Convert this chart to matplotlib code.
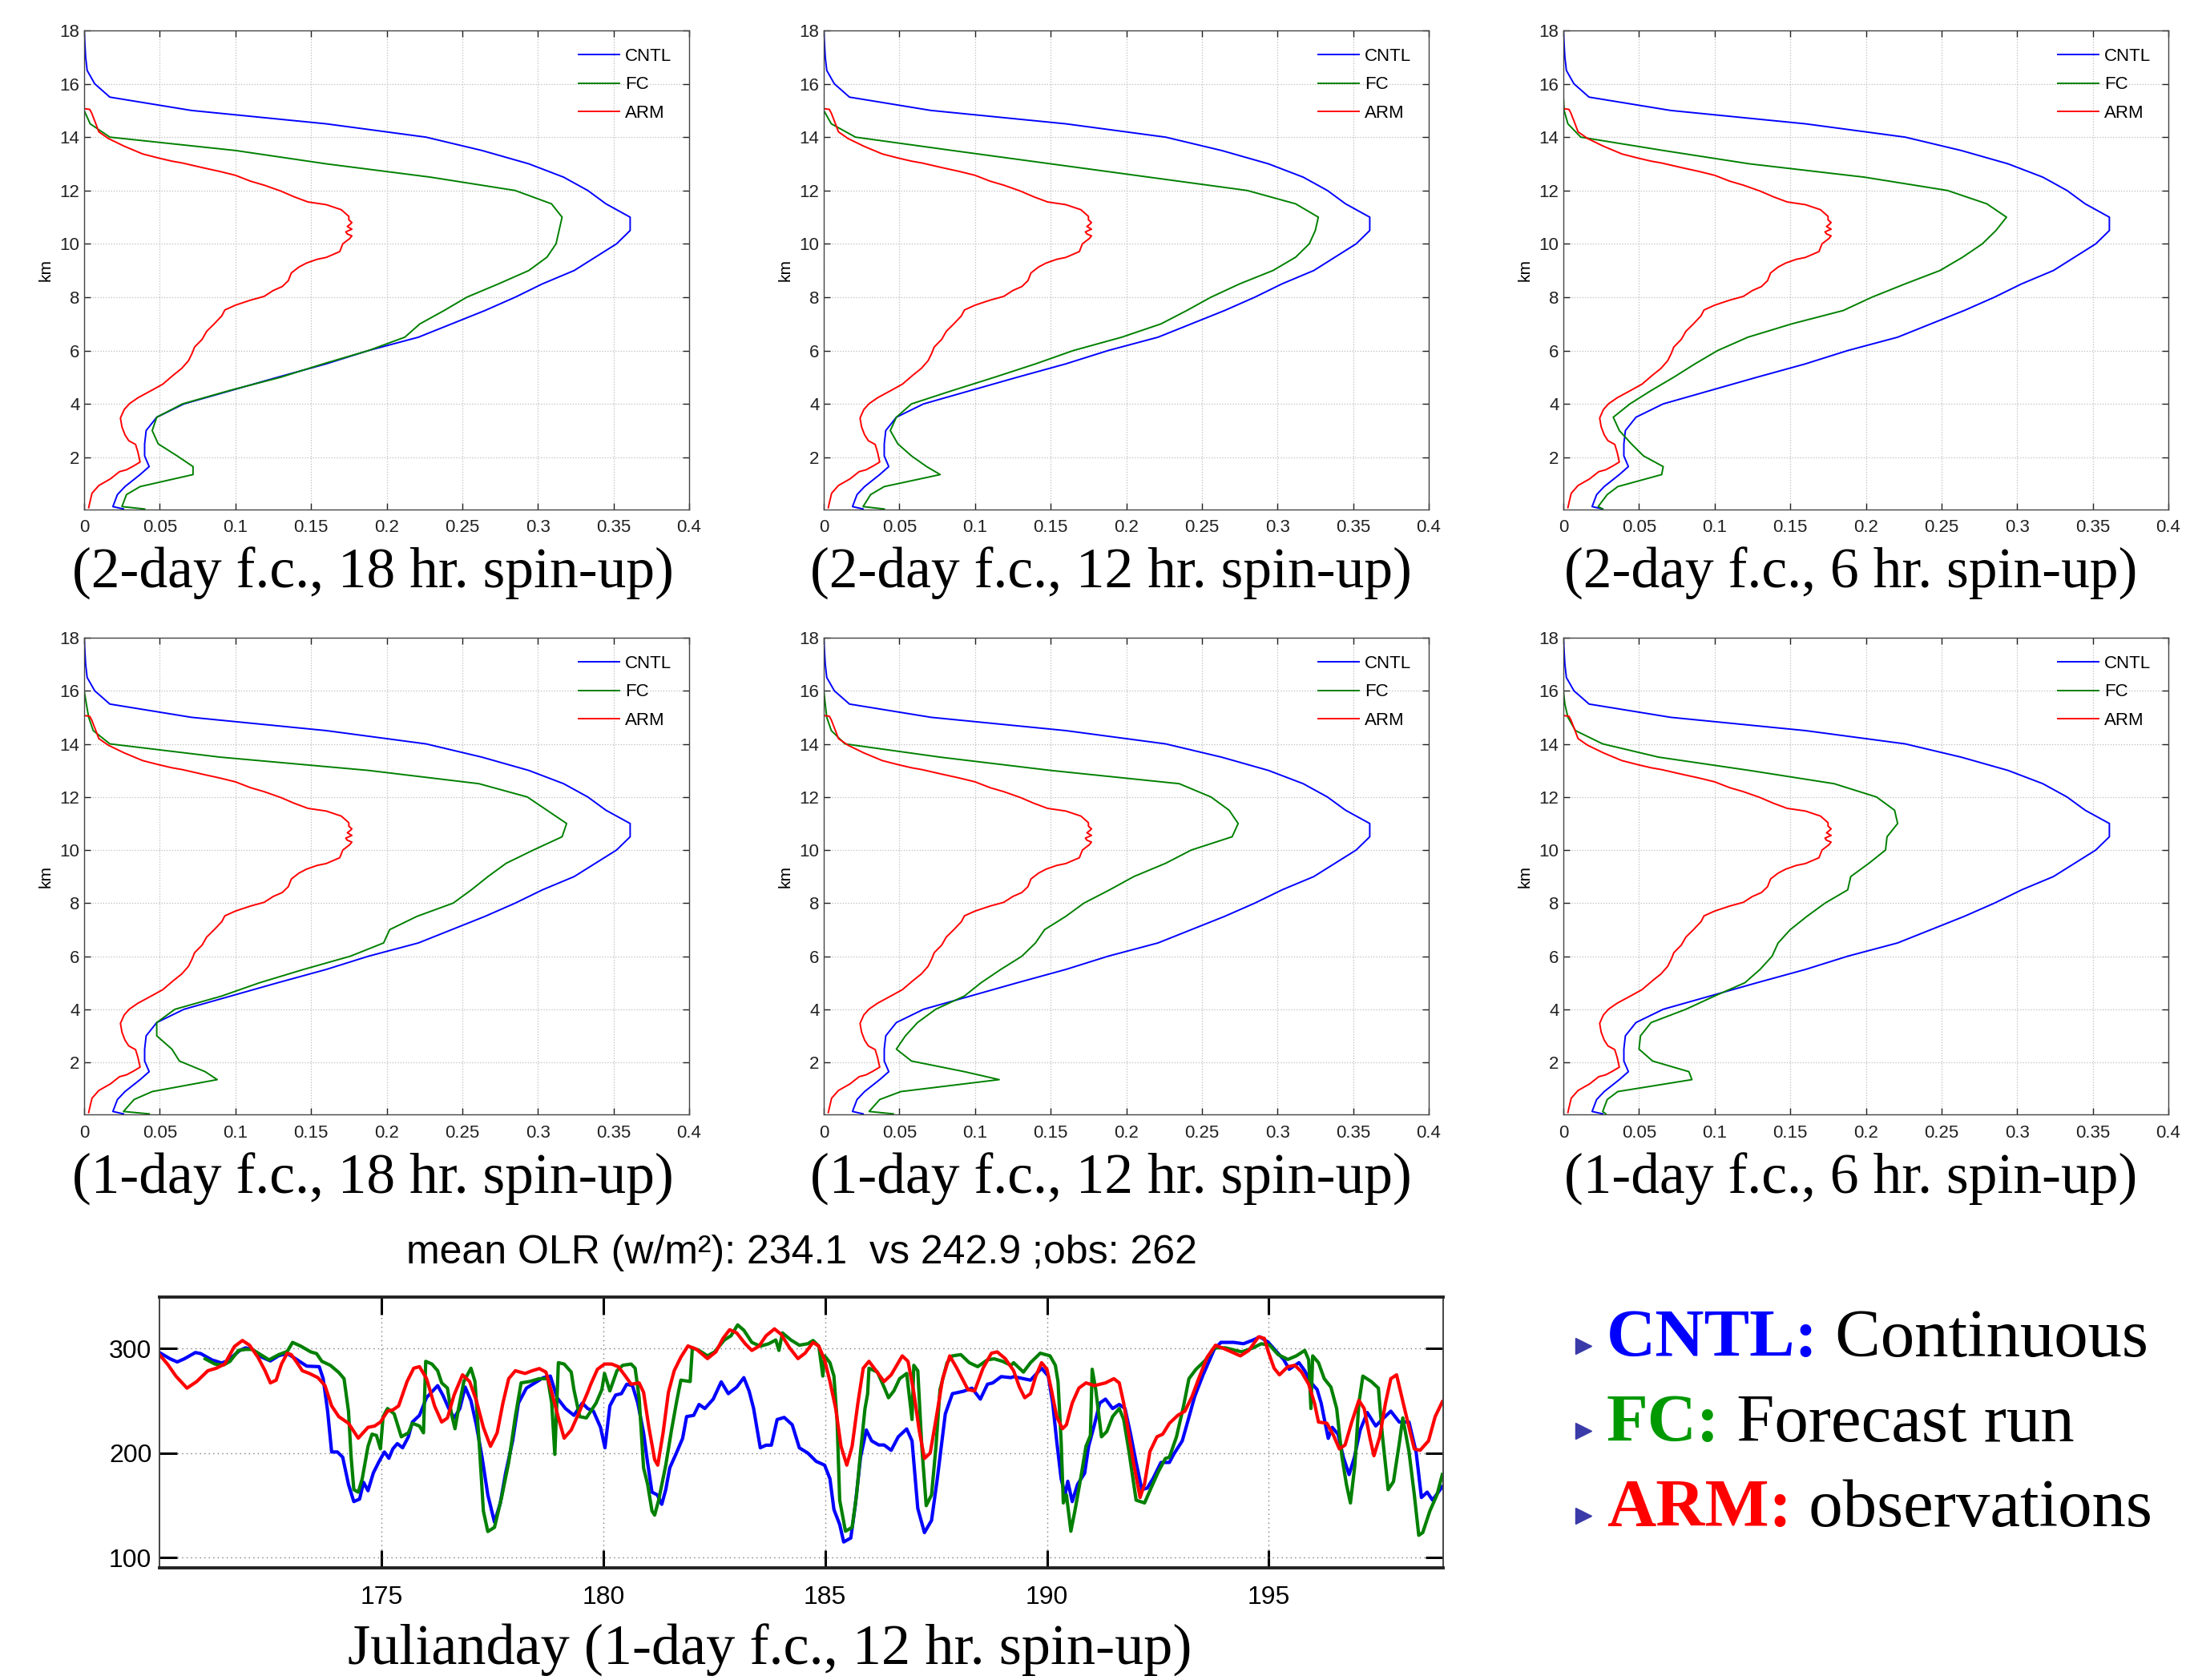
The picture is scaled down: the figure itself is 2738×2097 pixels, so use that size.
import numpy as np
import matplotlib
matplotlib.use('Agg')
import matplotlib.pyplot as plt

W, H, DPI = 2738, 2097, 100
SANS = ['Liberation Sans', 'DejaVu Sans']
SERIF = ['Liberation Serif', 'DejaVu Serif']
plt.rcParams['font.family'] = SANS

# ---------------- vertical profiles ----------------
Z_MODEL = [0.06, 0.15, 0.6, 0.9, 1.35, 1.65, 2.05, 2.5, 3.0, 3.5, 4.0, 4.5, 5.0, 5.5,
           6.0, 6.5, 7.0, 7.5, 8.0, 8.5, 9.0, 9.5, 10.0, 10.5, 11.0, 11.5, 12.0, 12.5,
           13.0, 13.5, 14.0, 14.5, 15.0, 15.5, 16.0, 16.5, 17.0, 18.0]

CNTL = [0.026, 0.019, 0.022, 0.027, 0.037, 0.043, 0.040, 0.040, 0.041, 0.048, 0.066, 0.097,
        0.128, 0.160, 0.188, 0.221, 0.243, 0.265, 0.285, 0.303, 0.324, 0.338, 0.352, 0.361,
        0.361, 0.345, 0.333, 0.317, 0.294, 0.263, 0.226, 0.160, 0.071, 0.017, 0.007, 0.002,
        0.001, 0.0]

FC_2D_18H = [0.040, 0.025, 0.028, 0.037, 0.072, 0.072, 0.0615, 0.049, 0.045, 0.048, 0.065,
             0.096, 0.130, 0.158, 0.188, 0.212, 0.222, 0.238, 0.253, 0.274, 0.294, 0.306,
             0.312, 0.314, 0.316, 0.309, 0.285, 0.229, 0.160, 0.100, 0.017, 0.004, 0.0, 0.0,
             0.0, 0.0, 0.0, 0.0]
FC_2D_12H = [0.040, 0.026, 0.031, 0.040, 0.077, 0.068, 0.058, 0.049, 0.044, 0.048, 0.058,
             0.085, 0.113, 0.140, 0.165, 0.197, 0.223, 0.240, 0.256, 0.275, 0.297, 0.312,
             0.321, 0.325, 0.327, 0.312, 0.280, 0.215, 0.150, 0.085, 0.021, 0.005, 0.0, 0.0,
             0.0, 0.0, 0.0, 0.0]
FC_2D_6H = [0.026, 0.023, 0.029, 0.036, 0.065, 0.066, 0.053, 0.045, 0.037, 0.033, 0.044,
            0.058, 0.073, 0.087, 0.102, 0.122, 0.151, 0.185, 0.204, 0.226, 0.249, 0.264,
            0.277, 0.286, 0.293, 0.280, 0.254, 0.199, 0.123, 0.066, 0.0115, 0.003, 0.0005,
            0.0, 0.0, 0.0, 0.0, 0.0]
FC_1D_18H = [0.043, 0.026, 0.033, 0.045, 0.088, 0.080, 0.063, 0.058, 0.048, 0.048, 0.060,
             0.091, 0.116, 0.145, 0.176, 0.198, 0.202, 0.220, 0.244, 0.256, 0.267, 0.279,
             0.297, 0.316, 0.319, 0.306, 0.293, 0.261, 0.188, 0.090, 0.017, 0.006, 0.003,
             0.0015, 0.0, 0.0, 0.0, 0.0]
FC_1D_12H = [0.046, 0.030, 0.037, 0.051, 0.116, 0.093, 0.058, 0.048, 0.054, 0.062, 0.074,
             0.093, 0.104, 0.117, 0.131, 0.140, 0.146, 0.160, 0.172, 0.189, 0.205, 0.226,
             0.243, 0.270, 0.274, 0.268, 0.256, 0.235, 0.150, 0.077, 0.014, 0.005, 0.002,
             0.001, 0.0, 0.0, 0.0, 0.0]
FC_1D_6H = [0.028, 0.026, 0.029, 0.036, 0.085, 0.083, 0.059, 0.050, 0.051, 0.058, 0.081,
            0.100, 0.120, 0.130, 0.138, 0.142, 0.150, 0.161, 0.173, 0.188, 0.190, 0.202,
            0.213, 0.214, 0.221, 0.219, 0.207, 0.179, 0.123, 0.063, 0.026, 0.008, 0.003,
            0.001, 0.0, 0.0, 0.0, 0.0]

Z_ARM = [0.11, 0.29, 0.65, 0.94, 1.19, 1.46, 1.53, 1.67, 1.82, 2.18, 2.48, 2.62, 2.84, 3.14,
         3.47, 3.79, 4.01, 4.23, 4.52, 4.74, 5.08, 5.33, 5.62, 5.91, 6.13, 6.42, 6.72, 7.0,
         7.3, 7.52, 7.7, 7.89, 8.03, 8.25, 8.4, 8.62, 8.91, 9.13, 9.28, 9.42, 9.49, 9.71,
         10.0, 10.2, 10.3, 10.37, 10.45, 10.55, 10.65, 10.74, 10.8, 10.9, 11.03, 11.28,
         11.47, 11.57, 11.76, 11.98, 12.2, 12.35, 12.57, 12.71, 12.86, 13.03, 13.1, 13.22,
         13.37, 13.66, 13.95, 14.2, 14.46, 14.9, 15.04, 15.07, 18.0]
ARM = [0.003, 0.0037, 0.0052, 0.0097, 0.0174, 0.0234, 0.028, 0.0326, 0.037, 0.0356, 0.034,
       0.0295, 0.027, 0.025, 0.024, 0.0265, 0.030, 0.0356, 0.045, 0.052, 0.059, 0.0645,
       0.069, 0.0715, 0.073, 0.078, 0.081, 0.086, 0.091, 0.093, 0.100, 0.110, 0.119, 0.125,
       0.131, 0.135, 0.137, 0.142, 0.147, 0.154, 0.160, 0.169, 0.171, 0.1756, 0.177, 0.174,
       0.173, 0.177, 0.174, 0.176, 0.177, 0.175, 0.175, 0.170, 0.160, 0.148, 0.139, 0.130,
       0.119, 0.110, 0.100, 0.090, 0.078, 0.065, 0.058, 0.049, 0.0387, 0.0265, 0.016,
       0.0097, 0.008, 0.005, 0.0037, 0.0, 0.0]

FC_PANELS = [FC_2D_18H, FC_2D_12H, FC_2D_6H, FC_1D_18H, FC_1D_12H, FC_1D_6H]
PANEL_TITLES = ['(2-day f.c., 18 hr. spin-up)', '(2-day f.c., 12 hr. spin-up)',
                '(2-day f.c., 6 hr. spin-up)', '(1-day f.c., 18 hr. spin-up)',
                '(1-day f.c., 12 hr. spin-up)', '(1-day f.c., 6 hr. spin-up)']
SERIES_NAMES = ['CNTL', 'FC', 'ARM']
PROFILE_XTICKS = [0, 0.05, 0.1, 0.15, 0.2, 0.25, 0.3, 0.35, 0.4]
PROFILE_XTICKLABELS = ['0', '0.05', '0.1', '0.15', '0.2', '0.25', '0.3', '0.35', '0.4']
PROFILE_YTICKS = [2, 4, 6, 8, 10, 12, 14, 16, 18]

# ---------------- OLR time series ----------------
DAY_CNTL = [170.0, 170.24, 170.40, 170.56, 170.81, 170.93, 171.18, 171.40, 171.53, 171.81,
            171.94, 172.09, 172.31, 172.5, 172.69, 172.88, 173.07, 173.32, 173.6, 173.69,
            173.79, 173.88, 174.01, 174.13, 174.26, 174.38, 174.51, 174.60, 174.7, 174.82,
            174.95, 175.07, 175.17, 175.26, 175.36, 175.48, 175.61, 175.7, 175.86, 176.02,
            176.27, 176.39, 176.52, 176.64, 176.77, 176.89, 177.02, 177.14, 177.27, 177.40,
            177.55, 177.68, 177.8, 177.96, 178.09, 178.27, 178.46, 178.65, 178.81, 178.96,
            179.15, 179.34, 179.53, 179.65, 179.78, 179.94, 180.04, 180.15, 180.28, 180.41,
            180.53, 180.66, 180.78, 180.91, 181.0, 181.1, 181.22, 181.32, 181.41, 181.5,
            181.66, 181.79, 181.88, 182.04, 182.16, 182.29, 182.48, 182.66, 182.82, 183.01,
            183.17, 183.29, 183.39, 183.54, 183.67, 183.79, 183.92, 184.08, 184.26, 184.42,
            184.61, 184.8, 184.99, 185.11, 185.2, 185.33, 185.42, 185.58, 185.68, 185.8,
            185.93, 186.05, 186.21, 186.33, 186.49, 186.65, 186.84, 186.96, 187.09, 187.24,
            187.4, 187.53, 187.71, 187.87, 188.12, 188.31, 188.5, 188.66, 188.78, 188.97,
            189.19, 189.25, 189.63, 189.88, 190.03, 190.13, 190.22, 190.32, 190.41, 190.47,
            190.57, 190.69, 190.85, 190.94, 191.07, 191.19, 191.32, 191.48, 191.63, 191.76,
            191.88, 192.01, 192.14, 192.26, 192.39, 192.57, 192.76, 192.86, 193.05, 193.17,
            193.33, 193.52, 193.77, 193.92, 194.21, 194.43, 194.65, 194.8, 194.99, 195.18,
            195.34, 195.46, 195.68, 195.81, 195.93, 196.09, 196.18, 196.34, 196.43, 196.56,
            196.68, 196.81, 196.93, 197.06, 197.22, 197.41, 197.56, 197.75, 197.94, 198.16,
            198.32, 198.44, 198.57, 198.69, 198.91]
OLR_CNTL = [296, 290, 287, 290, 296, 295, 289, 286, 288, 298,
            300.5, 299, 291.5, 288, 293, 295, 290, 283, 282.5, 271,
            240, 201, 201, 196, 170, 153.6, 156, 172, 164, 181,
            192, 201, 195, 204, 209, 205, 215.5, 229.6, 236, 253,
            264.4, 255, 242.5, 233.5, 242.5, 263, 250, 227, 196, 160,
            134, 152, 180.7, 211.6, 247.7, 262, 267, 272, 273.5, 252.8,
            242.5, 236, 247.7, 242.5, 240, 224.5, 205, 245, 255.4, 256.7,
            265.7, 264.4, 247.7, 219.3, 191, 162.6, 160, 151, 165, 185.8,
            201, 214, 234.8, 236, 246.4, 242.5, 251.5, 268, 256.7, 263,
            272, 259, 242.5, 205, 207.5, 207.5, 232, 234, 227, 205,
            200, 192, 188.4, 175.5, 146, 131.7, 115, 118.8, 149.7, 196,
            222, 211.6, 207.7, 207.7, 202.6, 215.5, 223, 211.6, 147, 124,
            135.6, 175.5, 237.4, 256.7, 259, 262, 251.5, 265.7, 267, 273,
            272, 273, 269.6, 281, 273.5, 247.7, 211.6, 175.5, 160, 173,
            153.6, 170, 180.7, 206.4, 227, 247.7, 251.5, 242.5, 246.4, 242.5,
            219.3, 191, 165, 166.5, 175.5, 191, 191, 199, 211.6, 229.6,
            254, 274.7, 299, 305.7, 305.7, 304.4, 308, 311, 305.7, 296.6,
            289, 280, 286.3, 278.6, 268.3, 260.6, 247.7, 214, 224.5, 218,
            196, 179.4, 196, 222, 238.7, 225.8, 232.2, 240, 229.6, 229.6,
            201, 157.5, 162.6, 155, 167.8]

DAY_FC = [171.03, 171.25, 171.44, 171.59, 171.78, 171.94, 172.09, 172.28, 172.47, 172.69,
          172.88, 173.0, 173.19, 173.41, 173.54, 173.66, 173.85, 174.04, 174.16, 174.26,
          174.32, 174.38, 174.48, 174.57, 174.7, 174.79, 174.89, 174.98, 175.04, 175.14,
          175.29, 175.45, 175.61, 175.7, 175.86, 175.95, 176.0, 176.14, 176.27, 176.36,
          176.49, 176.58, 176.66, 176.74, 176.86, 177.02, 177.11, 177.21, 177.3, 177.4,
          177.55, 177.71, 177.87, 178.02, 178.15, 178.34, 178.56, 178.75, 178.84, 178.91,
          178.99, 179.12, 179.28, 179.34, 179.47, 179.62, 179.84, 179.97, 180.03, 180.15,
          180.31, 180.44, 180.63, 180.72, 180.81, 180.91, 181.0, 181.1, 181.16, 181.25,
          181.41, 181.54, 181.66, 181.75, 181.96, 182.01, 182.16, 182.35, 182.51, 182.73,
          182.88, 183.03, 183.17, 183.35, 183.54, 183.73, 183.89, 183.96, 184.04, 184.23,
          184.42, 184.61, 184.73, 184.86, 184.95, 184.99, 185.11, 185.2, 185.27, 185.33,
          185.46, 185.61, 185.71, 185.8, 185.9, 185.96, 185.99, 186.18, 186.33, 186.43,
          186.55, 186.68, 186.84, 186.96, 187.0, 187.09, 187.18, 187.28, 187.4, 187.5,
          187.59, 187.75, 187.87, 188.06, 188.25, 188.44, 188.66, 188.81, 189.0, 189.19,
          189.25, 189.47, 189.63, 189.85, 190.07, 190.19, 190.25, 190.32, 190.37, 190.44,
          190.54, 190.63, 190.76, 190.88, 190.98, 191.02, 191.1, 191.23, 191.35, 191.48,
          191.63, 191.73, 191.85, 192.01, 192.2, 192.36, 192.51, 192.67, 192.76, 192.92,
          193.08, 193.2, 193.36, 193.58, 193.77, 194.02, 194.39, 194.65, 194.83, 195.02,
          195.21, 195.43, 195.62, 195.81, 195.9, 195.95, 195.99, 196.12, 196.25, 196.4,
          196.53, 196.65, 196.75, 196.84, 196.94, 197.03, 197.12, 197.31, 197.47, 197.56,
          197.69, 197.81, 197.94, 198.02, 198.16, 198.28, 198.38, 198.47, 198.63, 198.79,
          198.91]
OLR_FC = [290, 285, 284, 287.6, 298, 299, 299, 294, 289, 294,
          297, 305.7, 302, 296.6, 295, 287.6, 283.8, 277, 271, 240,
          196, 165, 162.6, 175.5, 206.4, 218, 216.8, 204, 234.8, 242.5,
          237.4, 215.5, 219.3, 228.4, 225.8, 219.3, 287.6, 285, 278.6, 267,
          262, 237.4, 223.2, 242.5, 268.3, 281, 268.3, 206.4, 144.6, 125,
          129, 157.5, 191, 234.8, 267, 268.3, 271, 271, 247.7, 198.7,
          286.3, 285, 277.3, 260.6, 234.8, 233.5, 247.7, 260.6, 276, 259.3,
          278.6, 283.8, 285, 281, 252.8, 185.8, 170.4, 144.6, 140.7, 155,
          188.4, 222, 250.3, 269.6, 268.3, 300.5, 298, 292.8, 296.6, 308,
          312, 322.4, 317.3, 305.7, 302, 304.4, 308, 298, 314.7, 308,
          303, 304.4, 307.5, 302, 273.5, 292.8, 286.3, 273.5, 232, 155,
          125.3, 129, 160, 201, 242.5, 256.7, 281, 277.3, 263, 252.8,
          259.3, 271, 276, 232, 283.8, 278.6, 206.4, 149.7, 160, 206.4,
          260.6, 286.3, 292.8, 294, 286.3, 282.5, 289, 290, 287.6, 283.8,
          286.3, 277.3, 286.3, 295.4, 292.8, 283.8, 268.3, 211.6, 152.3, 160,
          125.3, 144.6, 175.5, 206.4, 216.8, 280, 260.6, 215.5, 220.6, 234.8,
          242.5, 232.2, 201.3, 155, 152.3, 167.8, 182, 194.8, 196, 215.5,
          245, 271, 280, 289, 300.5, 300.5, 296.6, 300.5, 304.4, 303,
          294, 289.4, 292.8, 298, 289, 242.5, 292.8, 286.3, 271, 263,
          242.5, 196, 170, 152.3, 188.4, 247.7, 273.5, 268.3, 262, 216.8,
          165, 172.7, 209, 233.5, 201.3, 160, 121.4, 124, 144.6, 160,
          179.4]

DAY_ARM = [170.0, 170.18, 170.37, 170.62, 170.84, 171.09, 171.28, 171.47, 171.69, 171.87,
           172.03, 172.22, 172.38, 172.5, 172.63, 172.75, 172.88, 172.97, 173.1, 173.22,
           173.38, 173.57, 173.73, 173.88, 174.04, 174.26, 174.48, 174.7, 174.85, 174.98,
           175.14, 175.26, 175.39, 175.58, 175.73, 175.86, 176.02, 176.2, 176.36, 176.49,
           176.64, 176.83, 176.99, 177.14, 177.3, 177.46, 177.61, 177.74, 177.87, 178.02,
           178.24, 178.4, 178.56, 178.71, 178.84, 179.0, 179.12, 179.28, 179.47, 179.65,
           179.72, 179.87, 180.03, 180.19, 180.34, 180.5, 180.63, 180.81, 180.91, 181.03,
           181.16, 181.23, 181.35, 181.47, 181.6, 181.75, 181.91, 182.1, 182.35, 182.54,
           182.7, 182.85, 183.01, 183.2, 183.35, 183.51, 183.67, 183.86, 184.01, 184.2,
           184.39, 184.55, 184.73, 184.86, 184.99, 185.11, 185.24, 185.36, 185.49, 185.61,
           185.74, 185.86, 185.99, 186.15, 186.33, 186.49, 186.74, 186.87, 187.0, 187.12,
           187.24, 187.37, 187.5, 187.65, 187.81, 187.97, 188.22, 188.37, 188.56, 188.75,
           188.88, 189.06, 189.25, 189.38, 189.5, 189.63, 189.75, 189.88, 190.0, 190.1,
           190.22, 190.35, 190.44, 190.57, 190.72, 190.88, 191.07, 191.32, 191.51, 191.63,
           191.73, 191.82, 191.95, 192.1, 192.2, 192.32, 192.48, 192.61, 192.76, 192.95,
           193.11, 193.27, 193.42, 193.61, 193.8, 194.02, 194.36, 194.55, 194.77, 194.9,
           194.99, 195.12, 195.24, 195.43, 195.59, 195.74, 195.9, 196.03, 196.12, 196.31,
           196.46, 196.59, 196.72, 196.87, 197.03, 197.15, 197.28, 197.37, 197.5, 197.63,
           197.75, 197.88, 198.03, 198.19, 198.28, 198.41, 198.6, 198.75, 198.91]
OLR_ARM = [294, 285, 273.5, 262, 268.3, 278.6, 281, 285, 301.8, 307.5,
           303, 291.5, 278.6, 267, 269.6, 285, 295.4, 294, 286.3, 278.6,
           276, 272, 264.4, 245, 234.8, 228.4, 214.2, 224.5, 225.8, 229.6,
           240, 241.2, 245, 268.3, 281, 282.5, 271, 245, 229.6, 233.5,
           255.4, 274.7, 268.3, 250.3, 224.5, 206.4, 219.3, 247.7, 271, 278.6,
           276, 278.6, 280.7, 277.3, 258, 232.2, 214.2, 222, 240, 258,
           265.7, 280, 285, 285, 282.5, 273.5, 265.7, 267, 258, 224.5,
           193.6, 188.4, 219.3, 258, 278.6, 291.5, 302.3, 299.2, 290.2, 296.6,
           309.5, 317.8, 314.7, 304.4, 298, 302, 312, 318.6, 313.4, 300.5,
           290.2, 295.4, 305.7, 302, 289, 268.3, 242.5, 206.4, 188.4, 206.4,
           247.7, 281, 287.6, 278.6, 268.3, 274.7, 292.8, 287.6, 258, 222,
           194.8, 200, 232.2, 271, 292.8, 281, 260.6, 259.3, 281, 295.4,
           296.6, 290.2, 278.6, 263, 252.8, 256.7, 273.5, 286.3, 280, 260.6,
           234.8, 223.2, 227, 247.7, 262, 267, 264.4, 267, 271, 267,
           247.7, 224.5, 191, 157.5, 170.4, 201.3, 215.5, 218, 228.4, 236,
           240, 254, 271, 291.5, 303, 299.2, 292.8, 298, 311, 309.5,
           296.6, 281, 274.7, 282.5, 283.8, 277.3, 265.7, 247.7, 229.6, 228.4,
           216.8, 203.9, 207.7, 229.6, 250.3, 242.5, 214.2, 197.4, 215.5, 247.7,
           271, 274.7, 247.7, 219.3, 203.9, 202.6, 211.6, 234.8, 248.9]

OLR_XTICKS = [175, 180, 185, 190, 195]
OLR_YTICKS = [100, 200, 300]
OLR_TITLE = 'mean OLR (w/m\u00b2): 234.1  vs 242.9 ;obs: 262'
OLR_XLABEL = 'Julianday (1-day f.c., 12 hr. spin-up)'

BULLETS = [('CNTL:', ' Continuous', '#0000ff'),
           ('FC:', ' Forecast run', '#009900'),
           ('ARM:', ' observations', '#ff0000')]

COLORS = ['#0000ff', '#008000', '#ff0000']

# ---------------- figure ----------------
fig = plt.figure(figsize=(W / DPI, H / DPI), dpi=DPI)
fig.patch.set_facecolor('white')


def px_axes(l, t, r, b):
    return fig.add_axes([l / W, 1 - b / H, (r - l) / W, (b - t) / H])


COLS = [(105, 860), (1028, 1783), (1951, 2706)]
ROWS = [(38, 636), (796, 1391)]
TITLE_X = [465, 1386, 2310]
TITLE_Y = [716, 1472]

for i, fc in enumerate(FC_PANELS):
    r, c = divmod(i, 3)
    ax = px_axes(COLS[c][0], ROWS[r][0], COLS[c][1], ROWS[r][1])
    ax.plot(CNTL, Z_MODEL, color=COLORS[0], lw=1.4, label=SERIES_NAMES[0])
    ax.plot(fc, Z_MODEL, color=COLORS[1], lw=1.4, label=SERIES_NAMES[1])
    ax.plot(ARM, Z_ARM, color=COLORS[2], lw=1.4, label=SERIES_NAMES[2])
    ax.set_xlim(0, 0.4)
    ax.set_ylim(0.04, 18)
    ax.set_xticks(PROFILE_XTICKS)
    ax.set_xticklabels(PROFILE_XTICKLABELS)
    ax.set_yticks(PROFILE_YTICKS)
    ax.grid(True, ls=':', color='#bdbdbd', lw=0.9)
    ax.set_axisbelow(True)
    ax.tick_params(direction='in', top=True, right=True, length=6, width=1,
                   labelsize=16, colors='#222222')
    ax.tick_params(axis='x', pad=9)
    ax.tick_params(axis='y', pad=4)
    for s in ax.spines.values():
        s.set_color('#444444')
        s.set_linewidth(1.0)
    ax.set_ylabel('km', fontsize=15, labelpad=6)
    ax.legend(loc='upper right', frameon=False, fontsize=16, handlelength=2.3,
              handletextpad=0.3, labelspacing=0.66, borderaxespad=0.2, borderpad=0.78)
    fig.text(TITLE_X[c] / W, 1 - TITLE_Y[r] / H, PANEL_TITLES[i], family=SERIF,
             fontsize=51.5, ha='center', va='center')

# ---------------- OLR panel ----------------
bx = px_axes(199, 1619, 1801, 1957)
bx.plot(DAY_CNTL, OLR_CNTL, color=COLORS[0], lw=3)
bx.plot(DAY_FC, OLR_FC, color=COLORS[1], lw=3)
bx.plot(DAY_ARM, OLR_ARM, color=COLORS[2], lw=3)
bx.set_xlim(170, 198.93)
bx.set_ylim(90.3, 349)
bx.set_xticks(OLR_XTICKS)
bx.set_yticks(OLR_YTICKS)
bx.grid(True, ls=(0, (1, 3)), color='#7a7a7a', lw=1.0)
bx.set_axisbelow(True)
bx.tick_params(direction='in', top=True, right=True, length=16, width=2.2,
               labelsize=23)
bx.tick_params(axis='x', pad=16)
bx.tick_params(axis='y', pad=7)
for k in ('top', 'bottom'):
    bx.spines[k].set_linewidth(2.8)
    bx.spines[k].set_color('#222222')
for k in ('left', 'right'):
    bx.spines[k].set_linewidth(1.4)
    bx.spines[k].set_color('#444444')
fig.text(1000 / W, 1 - 1564 / H, OLR_TITLE, fontsize=36, ha='center', va='center')
fig.text(961 / W, 1 - 2060 / H, OLR_XLABEL, family=SERIF, fontsize=52,
         ha='center', va='center')

# ---------------- bullet legend text ----------------
tax = fig.add_axes([0, 0, 1, 1])
tax.set_xlim(0, W)
tax.set_ylim(H, 0)
tax.axis('off')
BASELINES = [1693, 1799, 1905]
for (bold, rest, col), yb in zip(BULLETS, BASELINES):
    tax.plot([1976], [yb - 13], marker='>', ms=15, color='#3a3aa8', mec='#3a3aa8')
    t1 = tax.text(2005, yb, bold, family=SERIF, fontsize=61, fontweight='bold',
                  color=col, ha='left', va='baseline')
    tax.annotate(rest, xy=(1, 0), xycoords=t1, family=SERIF, fontsize=61,
                 color='black', ha='left', va='bottom')

fig.savefig('out.png', dpi=DPI, facecolor='white')
